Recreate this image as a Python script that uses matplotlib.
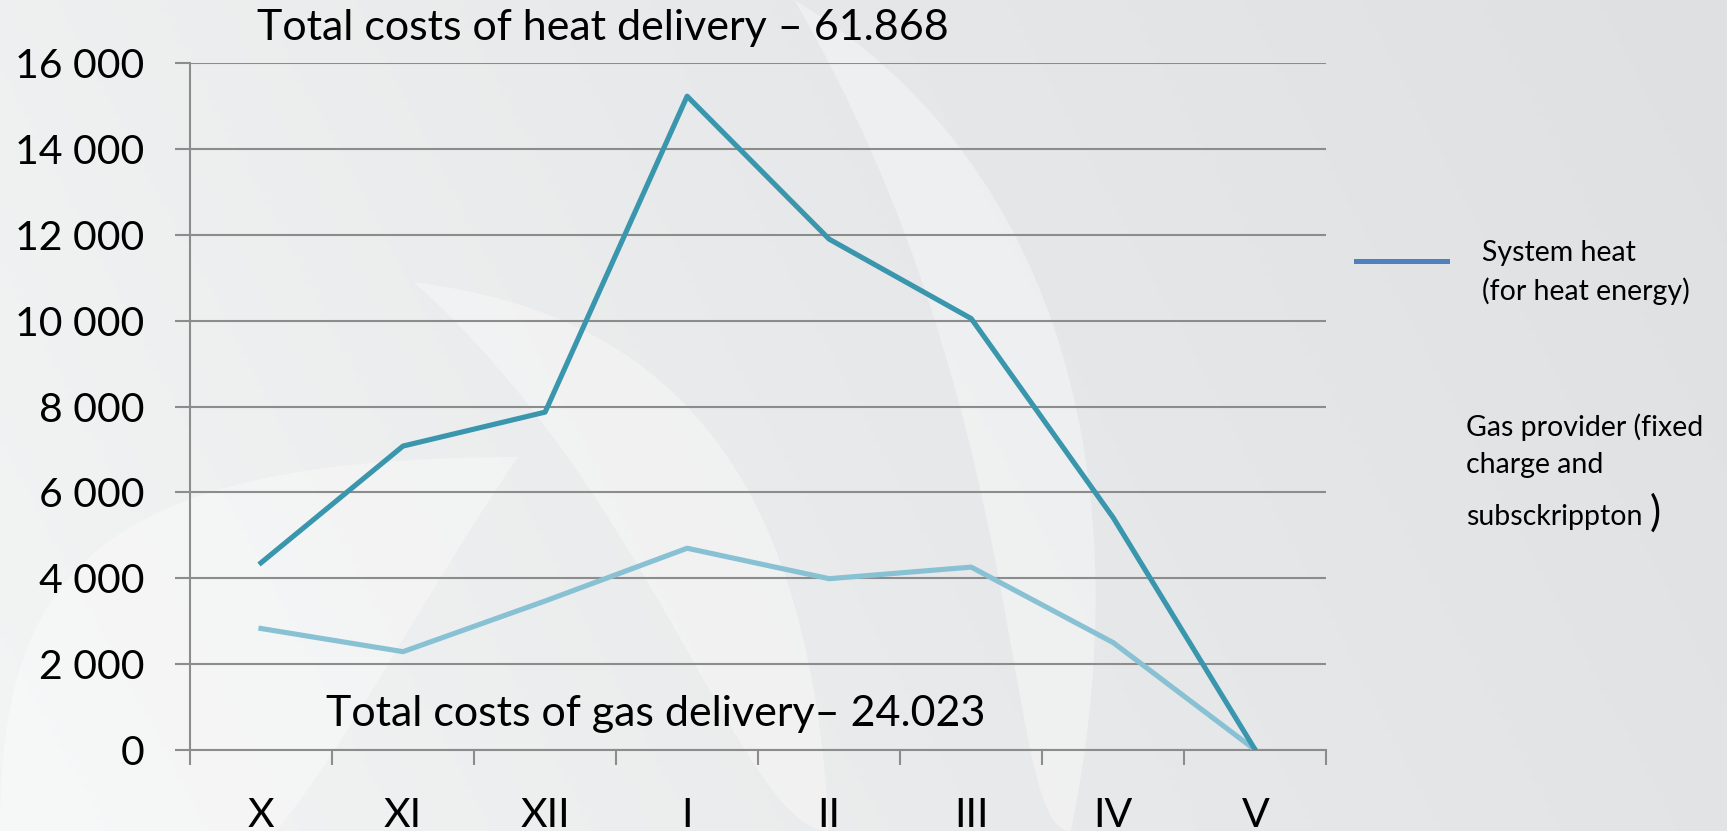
import numpy as np
import matplotlib.pyplot as plt
from matplotlib.patches import PathPatch
from matplotlib.path import Path
from matplotlib.colors import LinearSegmentedColormap

plt.rcParams['font.family'] = ['Lato', 'DejaVu Sans']

months = ['X', 'XI', 'XII', 'I', 'II', 'III', 'IV', 'V']
heat = [4360, 7080, 7870, 15230, 11900, 10050, 5410, 0]
gas = [2830, 2290, 3470, 4700, 3990, 4260, 2500, 0]
yticks = [0, 2000, 4000, 6000, 8000, 10000, 12000, 14000, 16000]
ylabels = ['0', '2 000', '4 000', '6 000', '8 000', '10 000', '12 000', '14 000', '16 000']

fig = plt.figure(figsize=(17.27, 8.31), dpi=100)

# background: soft gray gradient with lighter swooshes
bg = fig.add_axes([0, 0, 1, 1], zorder=-10)
cmap = LinearSegmentedColormap.from_list('bgc', ['#F3F4F4', '#E8E9EA', '#DFE0E2'])
gx, gy = np.meshgrid(np.linspace(0, 1, 300), np.linspace(0, 1, 150))
bg.imshow(0.8 * gx + 0.2 * gy, aspect='auto', extent=[0, 1, 0, 1], cmap=cmap,
          vmin=0, vmax=1, origin='lower')

def swoosh(verts):
    codes = [Path.MOVETO] + [Path.CURVE4] * (len(verts) - 1)
    return PathPatch(Path(verts, codes), facecolor='white', alpha=0.35, edgecolor='none')

bg.add_patch(swoosh([(0.0, 0.0), (0.0, 0.3), (0.05, 0.45), (0.30, 0.45),
                     (0.25, 0.3), (0.2, 0.1), (0.16, 0.0)]))
bg.add_patch(swoosh([(0.24, 0.66), (0.40, 0.62), (0.47, 0.4), (0.48, 0.0),
                     (0.43, 0.0), (0.38, 0.4), (0.24, 0.66)]))
bg.add_patch(swoosh([(0.46, 1.0), (0.62, 0.8), (0.66, 0.4), (0.62, 0.0),
                     (0.58, 0.0), (0.6, 0.5), (0.46, 1.0)]))
bg.set_xlim(0, 1)
bg.set_ylim(0, 1)
bg.axis('off')

ax = fig.add_axes([0.110, 0.0975, 0.658, 0.8265])
ax.set_facecolor('none')
x = np.arange(len(months))
ax.plot(x, gas, color='#88C1D3', lw=3.7, solid_joinstyle='round', zorder=3)
ax.plot(x, heat, color='#3A96AD', lw=3.7, solid_joinstyle='round', zorder=4)

ax.set_xlim(-0.5, len(months) - 0.5)
ax.set_ylim(0, 16000)
ax.set_yticks(yticks)
ax.set_yticklabels(ylabels, fontsize=29.5)
ax.yaxis.grid(True, color='#8C8C8C', lw=1.5)
ax.tick_params(axis='y', length=11, color='#8C8C8C', width=1.5, pad=22)
ax.set_xticks(x)
ax.set_xticklabels(months, fontsize=29.5)
ax.set_xticks(np.arange(-0.5, len(months)), minor=True)
ax.tick_params(axis='x', which='major', length=0, pad=34)
ax.tick_params(axis='x', which='minor', length=10.5, color='#8C8C8C', width=1.5)
for s in ['top', 'right']:
    ax.spines[s].set_visible(False)
ax.spines['left'].set_color('#8C8C8C')
ax.spines['left'].set_linewidth(1.5)
ax.spines['bottom'].set_color('#8C8C8C')
ax.spines['bottom'].set_linewidth(1.5)
ax.set_axisbelow(True)

fig.text(0.149, 0.966, 'Total costs of heat delivery \u2013 61.868', fontsize=31, va='center')
fig.text(0.189, 0.141, 'Total costs of gas delivery\u2013 24.023', fontsize=31, va='center')

# legend-like annotation on the right
fig.add_artist(plt.Line2D([0.785, 0.838], [0.686, 0.686], color='#4F81BD', lw=3.6))
fig.text(0.858, 0.696, 'System heat', fontsize=20.5, va='center')
fig.text(0.858, 0.649, '(for heat energy)', fontsize=20.5, va='center')
fig.text(0.849, 0.486, 'Gas provider (fixed', fontsize=20.5, va='center')
fig.text(0.849, 0.440, 'charge and', fontsize=20.5, va='center')
fig.text(0.849, 0.378, 'subsckrippton', fontsize=20.5, va='center')
fig.text(0.9555, 0.383, ')', fontsize=30, va='center')

fig.savefig('out.png', dpi=100)
